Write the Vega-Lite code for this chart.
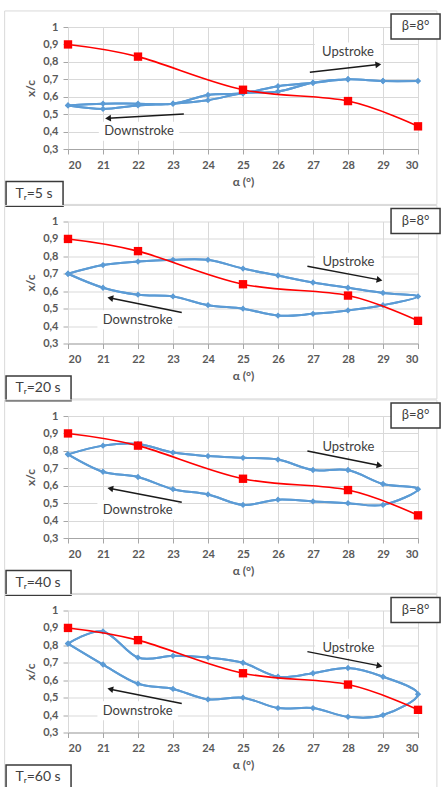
{
  "$schema": "https://vega.github.io/schema/vega-lite/v6.json",
  "padding": {"left": 4, "top": 10, "right": 0, "bottom": 0},
  "background": "white",
  "data": {
    "values": [
      {"kind": "tag", "panel": 1, "label": "Tᵣ=5 s"},
      {"kind": "tag", "panel": 2, "label": "Tᵣ=20 s"},
      {"kind": "tag", "panel": 3, "label": "Tᵣ=40 s"},
      {"kind": "tag", "panel": 4, "label": "Tᵣ=60 s"},

      {"kind": "ref", "panel": 1, "alpha": 20, "xc": 0.9},
      {"kind": "ref", "panel": 1, "alpha": 22, "xc": 0.83},
      {"kind": "ref", "panel": 1, "alpha": 25, "xc": 0.64},
      {"kind": "ref", "panel": 1, "alpha": 28, "xc": 0.575},
      {"kind": "ref", "panel": 1, "alpha": 30, "xc": 0.43},
      {"kind": "ref", "panel": 2, "alpha": 20, "xc": 0.9},
      {"kind": "ref", "panel": 2, "alpha": 22, "xc": 0.83},
      {"kind": "ref", "panel": 2, "alpha": 25, "xc": 0.64},
      {"kind": "ref", "panel": 2, "alpha": 28, "xc": 0.575},
      {"kind": "ref", "panel": 2, "alpha": 30, "xc": 0.43},
      {"kind": "ref", "panel": 3, "alpha": 20, "xc": 0.9},
      {"kind": "ref", "panel": 3, "alpha": 22, "xc": 0.83},
      {"kind": "ref", "panel": 3, "alpha": 25, "xc": 0.64},
      {"kind": "ref", "panel": 3, "alpha": 28, "xc": 0.575},
      {"kind": "ref", "panel": 3, "alpha": 30, "xc": 0.43},
      {"kind": "ref", "panel": 4, "alpha": 20, "xc": 0.9},
      {"kind": "ref", "panel": 4, "alpha": 22, "xc": 0.83},
      {"kind": "ref", "panel": 4, "alpha": 25, "xc": 0.64},
      {"kind": "ref", "panel": 4, "alpha": 28, "xc": 0.575},
      {"kind": "ref", "panel": 4, "alpha": 30, "xc": 0.43},

      {"kind": "arrow", "panel": 1, "text": "Upstroke", "x1": 26.91, "y1": 0.741, "x2": 28.97, "y2": 0.787, "tx": 28.0, "ty": 0.856},
      {"kind": "arrow", "panel": 1, "text": "Downstroke", "x1": 23.31, "y1": 0.501, "x2": 21.03, "y2": 0.475, "tx": 22.03, "ty": 0.402},
      {"kind": "arrow", "panel": 2, "text": "Upstroke", "x1": 26.84, "y1": 0.743, "x2": 29.01, "y2": 0.661, "tx": 28.01, "ty": 0.766},
      {"kind": "arrow", "panel": 2, "text": "Downstroke", "x1": 23.25, "y1": 0.478, "x2": 21.1, "y2": 0.565, "tx": 21.99, "ty": 0.436},
      {"kind": "arrow", "panel": 3, "text": "Upstroke", "x1": 26.84, "y1": 0.799, "x2": 29.01, "y2": 0.712, "tx": 28.01, "ty": 0.822},
      {"kind": "arrow", "panel": 3, "text": "Downstroke", "x1": 23.25, "y1": 0.505, "x2": 21.1, "y2": 0.588, "tx": 21.99, "ty": 0.463},
      {"kind": "arrow", "panel": 4, "text": "Upstroke", "x1": 26.84, "y1": 0.764, "x2": 29.01, "y2": 0.678, "tx": 28.01, "ty": 0.783},
      {"kind": "arrow", "panel": 4, "text": "Downstroke", "x1": 23.25, "y1": 0.467, "x2": 21.1, "y2": 0.553, "tx": 21.99, "ty": 0.425},

      {"kind": "loop", "panel": 1, "step": 0, "alpha": 20, "xc": 0.55},
      {"kind": "loop", "panel": 1, "step": 1, "alpha": 21, "xc": 0.56},
      {"kind": "loop", "panel": 1, "step": 2, "alpha": 22, "xc": 0.56},
      {"kind": "loop", "panel": 1, "step": 3, "alpha": 23, "xc": 0.56},
      {"kind": "loop", "panel": 1, "step": 4, "alpha": 24, "xc": 0.61},
      {"kind": "loop", "panel": 1, "step": 5, "alpha": 25, "xc": 0.62},
      {"kind": "loop", "panel": 1, "step": 6, "alpha": 26, "xc": 0.66},
      {"kind": "loop", "panel": 1, "step": 7, "alpha": 27, "xc": 0.68},
      {"kind": "loop", "panel": 1, "step": 8, "alpha": 28, "xc": 0.70},
      {"kind": "loop", "panel": 1, "step": 9, "alpha": 29, "xc": 0.69},
      {"kind": "loop", "panel": 1, "step": 10, "alpha": 30, "xc": 0.69},
      {"kind": "loop", "panel": 1, "step": 11, "alpha": 29, "xc": 0.69},
      {"kind": "loop", "panel": 1, "step": 12, "alpha": 28, "xc": 0.70},
      {"kind": "loop", "panel": 1, "step": 13, "alpha": 27, "xc": 0.68},
      {"kind": "loop", "panel": 1, "step": 14, "alpha": 26, "xc": 0.63},
      {"kind": "loop", "panel": 1, "step": 15, "alpha": 25, "xc": 0.62},
      {"kind": "loop", "panel": 1, "step": 16, "alpha": 24, "xc": 0.58},
      {"kind": "loop", "panel": 1, "step": 17, "alpha": 23, "xc": 0.56},
      {"kind": "loop", "panel": 1, "step": 18, "alpha": 22, "xc": 0.55},
      {"kind": "loop", "panel": 1, "step": 19, "alpha": 21, "xc": 0.53},
      {"kind": "loop", "panel": 1, "step": 20, "alpha": 20, "xc": 0.55},

      {"kind": "loop", "panel": 2, "step": 0, "alpha": 20, "xc": 0.70},
      {"kind": "loop", "panel": 2, "step": 1, "alpha": 21, "xc": 0.75},
      {"kind": "loop", "panel": 2, "step": 2, "alpha": 22, "xc": 0.77},
      {"kind": "loop", "panel": 2, "step": 3, "alpha": 23, "xc": 0.78},
      {"kind": "loop", "panel": 2, "step": 4, "alpha": 24, "xc": 0.78},
      {"kind": "loop", "panel": 2, "step": 5, "alpha": 25, "xc": 0.73},
      {"kind": "loop", "panel": 2, "step": 6, "alpha": 26, "xc": 0.69},
      {"kind": "loop", "panel": 2, "step": 7, "alpha": 27, "xc": 0.65},
      {"kind": "loop", "panel": 2, "step": 8, "alpha": 28, "xc": 0.62},
      {"kind": "loop", "panel": 2, "step": 9, "alpha": 29, "xc": 0.59},
      {"kind": "loop", "panel": 2, "step": 10, "alpha": 30, "xc": 0.57},
      {"kind": "loop", "panel": 2, "step": 11, "alpha": 29, "xc": 0.52},
      {"kind": "loop", "panel": 2, "step": 12, "alpha": 28, "xc": 0.49},
      {"kind": "loop", "panel": 2, "step": 13, "alpha": 27, "xc": 0.47},
      {"kind": "loop", "panel": 2, "step": 14, "alpha": 26, "xc": 0.46},
      {"kind": "loop", "panel": 2, "step": 15, "alpha": 25, "xc": 0.50},
      {"kind": "loop", "panel": 2, "step": 16, "alpha": 24, "xc": 0.52},
      {"kind": "loop", "panel": 2, "step": 17, "alpha": 23, "xc": 0.57},
      {"kind": "loop", "panel": 2, "step": 18, "alpha": 22, "xc": 0.58},
      {"kind": "loop", "panel": 2, "step": 19, "alpha": 21, "xc": 0.62},
      {"kind": "loop", "panel": 2, "step": 20, "alpha": 20, "xc": 0.70},

      {"kind": "loop", "panel": 3, "step": 0, "alpha": 20, "xc": 0.78},
      {"kind": "loop", "panel": 3, "step": 1, "alpha": 21, "xc": 0.83},
      {"kind": "loop", "panel": 3, "step": 2, "alpha": 22, "xc": 0.84},
      {"kind": "loop", "panel": 3, "step": 3, "alpha": 23, "xc": 0.79},
      {"kind": "loop", "panel": 3, "step": 4, "alpha": 24, "xc": 0.77},
      {"kind": "loop", "panel": 3, "step": 5, "alpha": 25, "xc": 0.76},
      {"kind": "loop", "panel": 3, "step": 6, "alpha": 26, "xc": 0.75},
      {"kind": "loop", "panel": 3, "step": 7, "alpha": 27, "xc": 0.69},
      {"kind": "loop", "panel": 3, "step": 8, "alpha": 28, "xc": 0.69},
      {"kind": "loop", "panel": 3, "step": 9, "alpha": 29, "xc": 0.61},
      {"kind": "loop", "panel": 3, "step": 10, "alpha": 30, "xc": 0.58},
      {"kind": "loop", "panel": 3, "step": 11, "alpha": 29, "xc": 0.49},
      {"kind": "loop", "panel": 3, "step": 12, "alpha": 28, "xc": 0.50},
      {"kind": "loop", "panel": 3, "step": 13, "alpha": 27, "xc": 0.51},
      {"kind": "loop", "panel": 3, "step": 14, "alpha": 26, "xc": 0.52},
      {"kind": "loop", "panel": 3, "step": 15, "alpha": 25, "xc": 0.49},
      {"kind": "loop", "panel": 3, "step": 16, "alpha": 24, "xc": 0.55},
      {"kind": "loop", "panel": 3, "step": 17, "alpha": 23, "xc": 0.58},
      {"kind": "loop", "panel": 3, "step": 18, "alpha": 22, "xc": 0.65},
      {"kind": "loop", "panel": 3, "step": 19, "alpha": 21, "xc": 0.68},
      {"kind": "loop", "panel": 3, "step": 20, "alpha": 20, "xc": 0.78},

      {"kind": "loop", "panel": 4, "step": 0, "alpha": 20, "xc": 0.81},
      {"kind": "loop", "panel": 4, "step": 1, "alpha": 21, "xc": 0.88},
      {"kind": "loop", "panel": 4, "step": 2, "alpha": 22, "xc": 0.73},
      {"kind": "loop", "panel": 4, "step": 3, "alpha": 23, "xc": 0.74},
      {"kind": "loop", "panel": 4, "step": 4, "alpha": 24, "xc": 0.73},
      {"kind": "loop", "panel": 4, "step": 5, "alpha": 25, "xc": 0.70},
      {"kind": "loop", "panel": 4, "step": 6, "alpha": 26, "xc": 0.62},
      {"kind": "loop", "panel": 4, "step": 7, "alpha": 27, "xc": 0.64},
      {"kind": "loop", "panel": 4, "step": 8, "alpha": 28, "xc": 0.67},
      {"kind": "loop", "panel": 4, "step": 9, "alpha": 29, "xc": 0.62},
      {"kind": "loop", "panel": 4, "step": 10, "alpha": 30, "xc": 0.52},
      {"kind": "loop", "panel": 4, "step": 11, "alpha": 29, "xc": 0.40},
      {"kind": "loop", "panel": 4, "step": 12, "alpha": 28, "xc": 0.39},
      {"kind": "loop", "panel": 4, "step": 13, "alpha": 27, "xc": 0.44},
      {"kind": "loop", "panel": 4, "step": 14, "alpha": 26, "xc": 0.44},
      {"kind": "loop", "panel": 4, "step": 15, "alpha": 25, "xc": 0.50},
      {"kind": "loop", "panel": 4, "step": 16, "alpha": 24, "xc": 0.49},
      {"kind": "loop", "panel": 4, "step": 17, "alpha": 23, "xc": 0.55},
      {"kind": "loop", "panel": 4, "step": 18, "alpha": 22, "xc": 0.58},
      {"kind": "loop", "panel": 4, "step": 19, "alpha": 21, "xc": 0.69},
      {"kind": "loop", "panel": 4, "step": 20, "alpha": 20, "xc": 0.81}
    ]
  },
  "facet": {"row": {"field": "panel", "type": "ordinal", "header": {"labels": false, "title": null, "labelPadding": 0, "titlePadding": 0}}},
  "spacing": {"row": 72.5},
  "bounds": "flush",
  "resolve": {"axis": {"x": "independent"}},
  "spec": {
    "width": 350,
    "height": 122,
    "layer": [
      {
        "transform": [{"filter": "datum.kind === 'loop'"}],
        "mark": {"type": "line", "interpolate": "cardinal", "tension": 0, "color": "#5b9bd5", "strokeWidth": 2},
        "encoding": {
          "x": {
            "field": "alpha", "type": "quantitative",
            "scale": {"domain": [20, 30], "nice": false, "zero": false},
            "axis": {"title": "α (°)", "values": [20, 21, 22, 23, 24, 25, 26, 27, 28, 29, 30], "tickCount": 20, "labelOverlap": false, "format": "d", "tickSize": 5, "labelPadding": 5, "titlePadding": 6}
          },
          "y": {
            "field": "xc", "type": "quantitative",
            "scale": {"domain": [0.3, 1], "nice": false, "zero": false},
            "axis": {"title": "x/c", "values": [0.3, 0.4, 0.5, 0.6, 0.7, 0.8, 0.9, 1], "tickCount": 20, "labelOverlap": false, "labelExpr": "datum.value >= 0.99 ? '1' : replace(format(datum.value, '.1f'), '.', ',')", "tickSize": 5, "labelPadding": 5, "titlePadding": 5}
          },
          "order": {"field": "step", "type": "quantitative"}
        }
      },
      {
        "transform": [
          {"filter": "datum.kind === 'tag'"},
          {"calculate": "18.19", "as": "fx1"},
          {"calculate": "30.54", "as": "fx2"},
          {"calculate": "1.092", "as": "fy1"},
          {"calculate": "-0.018", "as": "fy2"}
        ],
        "mark": {"type": "rect", "filled": false, "color": "#d9d9d9", "strokeWidth": 1},
        "encoding": {
          "x": {"field": "fx1", "type": "quantitative"},
          "x2": {"field": "fx2"},
          "y": {"field": "fy1", "type": "quantitative"},
          "y2": {"field": "fy2"}
        }
      },
      {
        "transform": [
          {"filter": "datum.kind === 'arrow'"},
          {"calculate": "datum.text === 'Upstroke' ? 0.95 : 1.15", "as": "hw"},
          {"calculate": "datum.tx - datum.hw", "as": "bx1"},
          {"calculate": "datum.tx + datum.hw", "as": "bx2"},
          {"calculate": "datum.ty + 0.055", "as": "by1"},
          {"calculate": "datum.ty - 0.055", "as": "by2"}
        ],
        "mark": {"type": "rect", "color": "white"},
        "encoding": {
          "x": {"field": "bx1", "type": "quantitative"},
          "x2": {"field": "bx2"},
          "y": {"field": "by1", "type": "quantitative"},
          "y2": {"field": "by2"}
        }
      },
      {
        "transform": [{"filter": "datum.kind === 'loop'"}],
        "mark": {"type": "line", "interpolate": "cardinal", "tension": 0, "color": "#5b9bd5", "strokeWidth": 2},
        "encoding": {
          "x": {"field": "alpha", "type": "quantitative"},
          "y": {"field": "xc", "type": "quantitative"},
          "order": {"field": "step", "type": "quantitative"}
        }
      },
      {
        "transform": [{"filter": "datum.kind === 'loop'"}],
        "mark": {"type": "point", "shape": "diamond", "filled": true, "size": 40, "color": "#5b9bd5", "opacity": 1},
        "encoding": {
          "x": {"field": "alpha", "type": "quantitative"},
          "y": {"field": "xc", "type": "quantitative"}
        }
      },
      {
        "transform": [{"filter": "datum.kind === 'ref'"}],
        "mark": {"type": "line", "interpolate": "cardinal", "tension": 0, "color": "#ff0000", "strokeWidth": 1.6},
        "encoding": {
          "x": {"field": "alpha", "type": "quantitative"},
          "y": {"field": "xc", "type": "quantitative"}
        }
      },
      {
        "transform": [{"filter": "datum.kind === 'ref'"}],
        "mark": {"type": "point", "shape": "square", "filled": true, "size": 70, "color": "#ff0000", "opacity": 1},
        "encoding": {
          "x": {"field": "alpha", "type": "quantitative"},
          "y": {"field": "xc", "type": "quantitative"}
        }
      },
      {
        "transform": [
          {"filter": "datum.kind === 'arrow'"},
          {"calculate": "datum.x2 - 0.05 * (datum.x2 - datum.x1)", "as": "hx"},
          {"calculate": "datum.y2 - 0.05 * (datum.y2 - datum.y1)", "as": "hy"}
        ],
        "mark": {"type": "rule", "color": "#1a1a1a", "strokeWidth": 1.5},
        "encoding": {
          "x": {"field": "x1", "type": "quantitative"},
          "y": {"field": "y1", "type": "quantitative"},
          "x2": {"field": "hx"},
          "y2": {"field": "hy"}
        }
      },
      {
        "transform": [
          {"filter": "datum.kind === 'arrow'"},
          {"calculate": "datum.x2 - 0.05 * (datum.x2 - datum.x1)", "as": "hx"},
          {"calculate": "datum.y2 - 0.05 * (datum.y2 - datum.y1)", "as": "hy"},
          {"calculate": "atan2(-(datum.y2 - datum.y1) * 122 / 0.7, (datum.x2 - datum.x1) * 35) * 180 / PI", "as": "ang"}
        ],
        "mark": {"type": "point", "shape": "triangle-right", "filled": true, "size": 45, "color": "#1a1a1a", "opacity": 1},
        "encoding": {
          "x": {"field": "hx", "type": "quantitative"},
          "y": {"field": "hy", "type": "quantitative"},
          "angle": {"field": "ang", "type": "quantitative", "scale": null}
        }
      },
      {
        "transform": [{"filter": "datum.kind === 'arrow'"}],
        "mark": {"type": "text", "font": "Lato", "fontSize": 13, "color": "#404040", "align": "center", "baseline": "middle"},
        "encoding": {
          "x": {"field": "tx", "type": "quantitative"},
          "y": {"field": "ty", "type": "quantitative"},
          "text": {"field": "text"}
        }
      },
      {
        "transform": [
          {"filter": "datum.kind === 'tag'"},
          {"calculate": "18.23", "as": "tx1"},
          {"calculate": "18.23 + (length(datum.label) * 8 + 9) / 35", "as": "tx2"},
          {"calculate": "0.114", "as": "ty1"},
          {"calculate": "-0.029", "as": "ty2"}
        ],
        "mark": {"type": "rect", "fill": "white", "stroke": "#3a3a3a", "strokeWidth": 1.5},
        "encoding": {
          "x": {"field": "tx1", "type": "quantitative"},
          "x2": {"field": "tx2"},
          "y": {"field": "ty1", "type": "quantitative"},
          "y2": {"field": "ty2"}
        }
      },
      {
        "transform": [
          {"filter": "datum.kind === 'tag'"},
          {"calculate": "18.5", "as": "lx"},
          {"calculate": "0.0425", "as": "ly"}
        ],
        "mark": {"type": "text", "font": "Lato", "fontSize": 14, "color": "#404040", "align": "left", "baseline": "middle"},
        "encoding": {
          "x": {"field": "lx", "type": "quantitative"},
          "y": {"field": "ly", "type": "quantitative"},
          "text": {"field": "label"}
        }
      },
      {
        "transform": [
          {"filter": "datum.kind === 'tag'"},
          {"calculate": "29.23", "as": "bx1"},
          {"calculate": "30.63", "as": "bx2"},
          {"calculate": "1.075", "as": "by1"},
          {"calculate": "0.931", "as": "by2"}
        ],
        "mark": {"type": "rect", "fill": "white", "stroke": "#3a3a3a", "strokeWidth": 1.5},
        "encoding": {
          "x": {"field": "bx1", "type": "quantitative"},
          "x2": {"field": "bx2"},
          "y": {"field": "by1", "type": "quantitative"},
          "y2": {"field": "by2"}
        }
      },
      {
        "transform": [
          {"filter": "datum.kind === 'tag'"},
          {"calculate": "29.93", "as": "bx"},
          {"calculate": "1.003", "as": "by"}
        ],
        "mark": {"type": "text", "text": "β=8°", "font": "Lato", "fontSize": 13, "color": "#404040", "align": "center", "baseline": "middle"},
        "encoding": {
          "x": {"field": "bx", "type": "quantitative"},
          "y": {"field": "by", "type": "quantitative"}
        }
      }
    ]
  },
  "config": {
    "font": "Lato",
    "view": {"stroke": null},
    "axis": {
      "grid": true,
      "gridColor": "#d9d9d9",
      "gridWidth": 1,
      "domainColor": "#a6a6a6",
      "tickColor": "#a6a6a6",
      "labelFont": "Lato",
      "labelFontSize": 11,
      "labelFontWeight": "bold",
      "labelColor": "#595959",
      "labelOverlap": false,
      "titleFont": "Lato",
      "titleFontSize": 12,
      "titleFontWeight": "bold",
      "titleColor": "#595959"
    }
  }
}
